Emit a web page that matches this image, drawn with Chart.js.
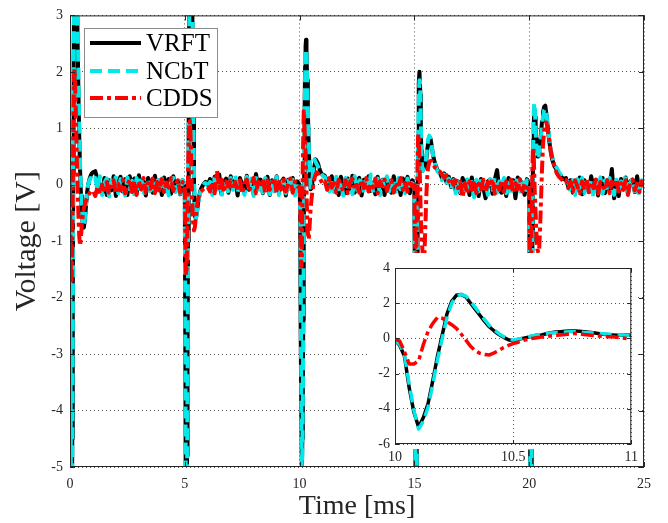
<!doctype html>
<html lang="en">
<head>
<meta charset="utf-8">
<title>Voltage response</title>
<script src="https://cdn.jsdelivr.net/npm/chart.js"></script>
<style>
  html,body{margin:0;padding:0;background:#fff}
  #wrap{position:relative;width:668px;height:523px}
  #main{position:absolute;left:0;top:0}
  #inset{position:absolute;left:370px;top:253px}
</style>
</head>
<body>
<div id="wrap">
  <canvas id="main" width="668" height="523"></canvas>
  <canvas id="inset" width="273" height="214"></canvas>
</div>

<script>
/* ---------- time base: one 5 ms period, repeated ---------------------- */
const periodStarts = [0, 5, 10, 15, 20];
const tOffsets = [0,0.02,0.04,0.06,0.08,0.10,0.12,0.14,0.16,0.18,0.20,0.22,0.24,0.26,0.28,0.30,
  0.33,0.36,0.40,0.44,0.48,0.52,0.56,0.60,0.65,0.70,0.75,0.80,0.85,0.90,0.95,1.0,
  1.1,1.2,1.3,1.4,1.5,1.6,1.7,1.8,1.9,2.0,2.1,2.2,2.3,
  2.4,2.5,2.6,2.7,2.8,2.9,3.0,3.1,3.2,3.3,3.4,3.5,3.6,
  3.7,3.8,3.9,4.0,4.1,4.2,4.3,4.4,4.5,4.6,4.7,4.8,4.9];
const tEnd = 25;

/* ---------- VRFT (V) per period ---------------------------------------- */
const vrft0 = [0,-2.5,-5.5,-6.3,-6.0,-4.5,-2.2,0.2,2.2,3.6,4.4,4.8,4.8,4.5,4.0,3.5,
  2.6,1.8,0.9,0.25,-0.2,-0.5,-0.7,-0.76,-0.62,-0.35,-0.12,0.02,0.1,0.16,0.2,0.22,
  0.24,0.1,0.0,-0.16,0.12,-0.18,0.08,-0.1,0.15,-0.2,0.05,0.14,-0.12,
  0.1,-0.18,0.15,-0.05,0.11,-0.16,0.17,-0.08,0.06,-0.19,0.12,0.03,-0.14,
  0.16,-0.09,0.08,-0.18,0.13,-0.04,0.1,-0.16,0.15,-0.11,0.06,-0.17,0.08];
const vrft1 = [0,-2.6,-5.4,-6.2,-6.0,-4.8,-3.0,-1.0,0.8,2.2,3.2,3.9,4.3,4.4,4.2,3.8,
  3.0,1.6,0.0,-0.55,-0.6,-0.5,-0.38,-0.26,-0.16,-0.08,-0.04,0.0,0.03,0.05,0.02,0.0,
  0.1,-0.15,0.14,-0.08,0.18,-0.17,0.05,0.11,-0.14,0.15,-0.06,0.08,-0.19,
  0.12,0.0,-0.13,0.16,-0.09,0.06,-0.17,0.19,-0.05,0.09,-0.15,0.03,0.14,
  -0.18,0.08,-0.08,0.15,-0.14,0.05,0.11,-0.19,0.09,-0.03,0.12,-0.15,0.06];
const vrft2 = [0,-0.4,-1.0,-2.8,-4.2,-5.05,-4.5,-3.7,-2.4,-1.0,0.2,1.4,2.1,2.45,2.57,2.35,
  1.85,1.3,0.65,0.22,-0.08,-0.06,0.06,0.2,0.34,0.45,0.42,0.38,0.3,0.24,0.2,0.18,
  0.16,0.06,-0.06,0.15,-0.12,0.09,-0.18,0.14,0.0,-0.15,0.11,-0.08,0.16,
  -0.14,0.06,0.12,-0.19,0.09,-0.05,0.15,-0.11,0.03,-0.17,0.14,-0.06,0.09,
  -0.18,0.12,0.02,-0.14,0.15,-0.09,0.06,-0.18,0.11,-0.03,0.14,-0.15,0.08];
const vrft3 = [0,-2.0,-4.5,-6.0,-6.0,-4.8,-2.8,-0.8,0.6,1.3,1.8,2.0,2.0,1.6,1.0,0.6,
  0.3,0.25,0.35,0.3,0.32,0.45,0.62,0.75,0.85,0.82,0.7,0.55,0.45,0.38,0.32,0.26,
  0.22,0.12,0.2,0.04,0.14,-0.04,0.1,-0.1,0.06,-0.15,0.12,-0.06,0.09,
  -0.18,0.13,-0.08,0.03,-0.2,0.1,-0.05,-0.24,0.06,0.09,-0.16,0.09,0.26,
  -0.09,-0.14,0.05,-0.2,0.12,-0.06,0.08,-0.24,0.13,-0.09,0.0,-0.18,0.1];
const vrft4 = [0,-2.0,-4.5,-6.0,-6.0,-4.8,-2.8,-1.0,0.2,0.8,1.1,1.25,1.3,1.2,1.0,0.8,
  0.6,0.5,0.5,0.6,0.75,0.95,1.12,1.28,1.38,1.4,1.25,1.05,0.85,0.7,0.55,0.45,
  0.33,0.26,0.2,0.14,0.1,0.12,-0.04,0.08,-0.14,0.06,-0.09,0.13,-0.17,
  0.08,0.0,-0.13,0.15,-0.06,0.09,-0.19,0.05,0.12,-0.15,0.08,-0.08,0.28,
  -0.24,0.03,-0.2,0.1,-0.05,0.13,-0.16,0.06,0.09,-0.13,0.15,-0.09,0.03];
const vrftEnd = 0.02;

/* ---------- NCbT (V) per period ---------------------------------------- */
const ncbt0 = [0,-2.2,-5.2,-6.4,-6.2,-4.8,-2.6,-0.2,1.9,3.4,4.3,4.8,5.0,4.8,4.4,3.9,
  3.0,2.1,1.1,0.35,-0.15,-0.48,-0.68,-0.74,-0.6,-0.32,-0.1,0.02,0.08,0.12,0.1,0.06,
  0.12,-0.1,0.15,-0.18,0.04,0.11,-0.21,0.08,-0.07,0.16,-0.15,0.1,-0.04,
  -0.19,0.13,-0.08,0.07,-0.17,0.12,-0.11,0.15,-0.2,0.05,0.1,-0.14,0.03,
  -0.18,0.14,-0.07,0.11,-0.15,0.08,-0.19,0.06,0.12,-0.13,0.04,-0.16,0.09];
const ncbt1 = [0,-2.3,-5.1,-6.3,-6.2,-5.0,-3.3,-1.3,0.5,2.0,3.1,3.9,4.4,4.6,4.5,4.1,
  3.3,1.9,0.2,-0.5,-0.62,-0.52,-0.4,-0.28,-0.18,-0.1,-0.06,-0.02,0.02,0.03,0.0,-0.02,
  0.05,-0.18,0.11,-0.12,0.15,-0.21,0.08,0.03,-0.15,0.12,-0.09,0.16,-0.14,
  0.06,-0.05,-0.18,0.14,-0.06,0.11,-0.2,0.15,-0.09,0.03,-0.14,0.12,0.06,
  -0.17,0.09,-0.12,0.14,-0.18,0.03,0.08,-0.15,0.12,-0.08,0.09,-0.19,0.05];
const ncbt2 = [0,-0.35,-0.9,-2.6,-4.1,-5.15,-4.7,-3.9,-2.6,-1.2,0.0,1.2,1.9,2.3,2.4,2.3,
  1.9,1.35,0.7,0.25,-0.05,-0.02,0.1,0.35,0.45,0.4,0.36,0.32,0.28,0.22,0.2,0.16,
  0.14,0.03,-0.12,0.11,-0.15,0.14,-0.08,0.06,-0.19,0.12,-0.03,0.09,-0.17,
  0.15,-0.09,0.05,0.14,-0.15,0.08,-0.06,0.18,-0.14,0.0,0.11,-0.18,0.08,
  -0.05,0.15,-0.12,0.03,0.09,-0.17,0.12,-0.08,0.05,-0.15,0.11,-0.09,0.03];
const ncbt3 = [0,-1.8,-4.2,-5.8,-6.1,-5.0,-3.0,-1.0,0.4,1.1,1.6,1.85,1.85,1.6,1.1,0.7,
  0.35,0.25,0.3,0.35,0.38,0.5,0.68,0.8,0.87,0.82,0.7,0.55,0.45,0.36,0.3,0.24,
  0.2,0.08,0.18,0.0,0.11,-0.08,0.08,-0.15,0.09,-0.2,0.06,-0.1,0.13,
  -0.15,0.05,-0.22,0.09,-0.12,0.15,-0.06,0.03,-0.18,0.1,-0.09,0.13,-0.2,
  0.06,-0.03,0.12,-0.15,0.08,-0.19,0.09,-0.05,0.15,-0.12,0.05,-0.16,0.08];
const ncbt4 = [0,-1.8,-4.2,-5.8,-6.1,-5.0,-3.0,-1.2,0.3,0.9,1.3,1.45,1.4,1.2,0.95,0.75,
  0.55,0.48,0.45,0.52,0.68,0.88,1.05,1.2,1.32,1.35,1.25,1.08,0.9,0.74,0.6,0.5,
  0.36,0.3,0.22,0.16,0.1,0.08,0.03,-0.12,0.08,-0.18,0.1,-0.06,0.12,
  -0.15,0.05,-0.1,0.09,-0.22,0.06,-0.03,0.13,-0.16,0.08,-0.09,0.12,-0.05,
  -0.18,0.09,-0.13,0.06,-0.08,0.15,-0.19,0.03,0.1,-0.12,0.05,-0.18,0.08];
const ncbtEnd = -0.06;

/* ---------- CDDS (V) per period ---------------------------------------- */
const cdds0 = [0,-0.9,-1.6,-1.75,-1.6,-1.1,-0.2,0.8,1.6,2.0,2.05,1.8,1.5,1.2,0.8,0.4,
  -0.05,-0.45,-0.9,-1.08,-0.92,-0.68,-0.52,-0.42,-0.34,-0.28,-0.23,-0.18,-0.15,-0.12,-0.11,-0.1,
  -0.2,-0.04,-0.17,0.0,-0.15,0.05,-0.14,-0.02,0.08,-0.16,0.02,-0.1,0.09,
  -0.15,-0.01,0.1,-0.13,0.06,-0.18,0.07,-0.08,0.12,-0.14,0.03,-0.07,0.11,
  -0.15,0.05,-0.1,0.1,-0.13,0.04,-0.05,0.12,-0.11,0.01,0.08,-0.14,0.05];
const cdds1 = [0,-0.8,-1.4,-1.6,-1.5,-1.1,-0.5,0.1,0.6,0.95,1.1,1.13,1.0,0.75,0.4,0.05,
  -0.35,-0.65,-0.81,-0.75,-0.58,-0.42,-0.3,-0.22,-0.16,-0.12,-0.1,-0.08,-0.06,-0.05,-0.05,-0.04,
  -0.12,0.05,-0.15,0.25,-0.06,0.09,-0.14,0.06,-0.03,0.08,-0.08,0.05,-0.12,
  0.08,-0.16,0.03,0.09,-0.11,0.0,0.12,-0.15,0.06,-0.05,0.11,-0.14,0.08,
  -0.09,0.03,0.12,-0.15,0.05,-0.08,0.09,-0.12,0.02,0.11,-0.14,0.06,-0.03];
const cdds2 = [-0.04,-0.15,-0.75,-1.45,-1.45,-1.28,-0.35,0.4,0.85,1.3,1.2,0.95,0.78,0.57,0.25,-0.1,
  -0.58,-0.85,-0.97,-0.7,-0.42,-0.25,-0.1,0.0,0.12,0.18,0.22,0.2,0.15,0.1,0.06,0.02,
  0.06,-0.09,0.12,-0.05,0.03,-0.14,0.09,-0.02,-0.11,0.08,-0.15,0.05,0.11,
  -0.08,0.0,-0.14,0.09,-0.06,0.12,-0.12,0.03,-0.05,0.11,-0.15,0.06,-0.03,
  0.09,-0.11,0.02,0.08,-0.14,0.05,-0.06,0.12,-0.09,0.03,-0.12,0.08,-0.03];
const cdds3 = [0,-0.8,-1.4,-1.6,-1.4,-0.8,-0.1,0.5,0.85,0.9,0.75,0.45,0.1,-0.25,-0.55,-0.8,
  -1.05,-1.2,-1.3,-1.2,-0.7,-0.2,0.15,0.32,0.4,0.42,0.42,0.38,0.34,0.3,0.3,0.28,
  0.24,0.18,0.12,0.17,0.06,0.12,0.0,0.08,-0.06,0.05,-0.22,0.03,-0.16,
  0.06,-0.09,0.08,-0.15,0.02,-0.08,0.09,-0.13,0.05,-0.03,0.1,-0.16,0.03,
  -0.09,0.08,-0.12,0.06,-0.05,0.09,-0.15,0.03,-0.08,0.1,-0.12,0.02,-0.06];
const cdds4 = [0,-0.8,-1.4,-1.6,-1.4,-0.9,-0.3,0.3,0.6,0.66,0.5,0.2,-0.1,-0.3,-0.5,-0.75,
  -1.0,-1.15,-1.2,-1.1,-0.7,-0.2,0.3,0.7,0.95,1.08,1.1,1.0,0.85,0.7,0.58,0.48,
  0.32,0.2,0.14,0.1,0.05,0.08,-0.06,0.05,-0.12,0.08,-0.03,-0.15,0.06,
  -0.09,0.1,-0.13,0.03,-0.06,0.09,-0.16,0.05,0.0,-0.1,0.08,-0.15,0.06,
  -0.05,0.1,-0.12,0.03,-0.09,0.08,-0.18,0.05,0.09,-0.1,0.02,-0.13,0.06];
const cddsEnd = -0.02;

/* ---------- inset: zoom on 10 .. 11 ms --------------------------------- */
const insetT = [10.00,10.02,10.04,10.06,10.08,10.10,10.12,10.14,10.16,10.18,
  10.20,10.22,10.24,10.26,10.28,10.30,10.32,10.34,10.36,10.38,
  10.40,10.42,10.44,10.46,10.48,10.50,10.52,10.54,10.56,10.58,
  10.60,10.62,10.64,10.66,10.68,10.70,10.72,10.74,10.76,10.78,
  10.80,10.82,10.84,10.86,10.88,10.90,10.92,10.94,10.96,10.98,11.00];
const insetVrft = [-0.1,-0.4,-1.0,-2.8,-4.2,-5.05,-4.5,-3.7,-2.4,-1.0,
  0.2,1.4,2.1,2.45,2.5,2.35,2.0,1.65,1.3,0.95,
  0.65,0.42,0.22,0.06,-0.08,-0.14,-0.06,0.0,0.06,0.12,
  0.18,0.2,0.26,0.32,0.36,0.38,0.4,0.42,0.42,0.4,
  0.38,0.35,0.32,0.28,0.24,0.22,0.2,0.18,0.18,0.2,0.18];
const insetNcbt = [-0.1,-0.35,-0.9,-2.6,-4.1,-5.15,-4.7,-3.9,-2.6,-1.2,
  0.0,1.2,2.0,2.4,2.5,2.4,2.1,1.75,1.4,1.05,
  0.72,0.48,0.27,0.1,-0.04,-0.1,-0.04,0.02,0.08,0.14,
  0.2,0.24,0.28,0.3,0.32,0.34,0.36,0.38,0.38,0.36,
  0.34,0.32,0.3,0.28,0.26,0.24,0.22,0.2,0.19,0.18,0.17];
const insetCdds = [-0.04,-0.15,-0.75,-1.45,-1.45,-1.28,-0.35,0.4,0.85,1.2,
  1.15,0.95,0.78,0.57,0.25,-0.1,-0.45,-0.7,-0.85,-0.92,
  -0.94,-0.82,-0.68,-0.52,-0.4,-0.3,-0.22,-0.12,-0.06,0.0,
  0.04,0.08,0.1,0.14,0.17,0.19,0.22,0.26,0.28,0.26,
  0.22,0.19,0.16,0.14,0.12,0.1,0.09,0.06,0.03,0.0,-0.04];

const mainXTicks = [0, 5, 10, 15, 20, 25];
const mainYTicks = [-5, -4, -3, -2, -1, 0, 1, 2, 3];
const insetXTicks = [10, 10.5, 11];
const insetYTicks = [-6, -4, -2, 0, 2, 4];

/* ---------- helpers ---------------------------------------------------- */
const tMain = periodStarts.flatMap(p => tOffsets.map(o => +(p + o).toFixed(2))).concat([tEnd]);
const toPts = (xs, ys) => xs.map((x, i) => ({x, y: ys[i]}));

const vrft = [...vrft0, ...vrft1, ...vrft2, ...vrft3, ...vrft4, vrftEnd];
const ncbt = [...ncbt0, ...ncbt1, ...ncbt2, ...ncbt3, ...ncbt4, ncbtEnd];
const cdds = [...cdds0, ...cdds1, ...cdds2, ...cdds3, ...cdds4, cddsEnd];

const SERIF = '"Liberation Serif", "DejaVu Serif", serif';
const INK = '#262626';
Chart.defaults.font.family = SERIF;
Chart.defaults.color = INK;

const styles = {
  VRFT: {borderColor:'#000000', borderDash:[]},
  NCbT: {borderColor:'#00e8e8', borderDash:[12,6]},
  CDDS: {borderColor:'#ff0000', borderDash:[13,4,4,4]}
};
function series(label, pts, w, order){
  return {label, data:pts, ...styles[label], borderWidth:w, pointRadius:0,
          tension:0, borderJoinStyle:'round', clip:0, order};
}
const fixTicks = list => s => { s.ticks = list.map(v => ({value:v})); };

/* ---------- plugins: white panel, box + inward ticks, legend ----------- */
const frame = {
  id:'frame',
  beforeDraw(chart, args, o){
    if(!o.panel) return;
    const a = chart.chartArea, ctx = chart.ctx;
    ctx.save(); ctx.fillStyle = '#fff';
    ctx.fillRect(0, 0, a.right + 4, a.bottom + 5);
    ctx.restore();
  },
  afterDatasetsDraw(chart, args, o){
    const a = chart.chartArea, ctx = chart.ctx;
    const sx = chart.scales.x, sy = chart.scales.y, L = o.tick || 5;
    ctx.save();
    ctx.strokeStyle = INK; ctx.lineWidth = 1; ctx.setLineDash([]);
    ctx.strokeRect(a.left + 0.5, a.top + 0.5, a.right - a.left - 1, a.bottom - a.top - 1);
    ctx.beginPath();
    sx.ticks.forEach(t => {
      const px = Math.round(sx.getPixelForValue(t.value)) + 0.5;
      ctx.moveTo(px, a.bottom); ctx.lineTo(px, a.bottom - L);
      ctx.moveTo(px, a.top); ctx.lineTo(px, a.top + L);
    });
    sy.ticks.forEach(t => {
      const py = Math.round(sy.getPixelForValue(t.value)) + 0.5;
      ctx.moveTo(a.left, py); ctx.lineTo(a.left + L, py);
      ctx.moveTo(a.right, py); ctx.lineTo(a.right - L, py);
    });
    ctx.stroke();
    ctx.restore();
  }
};

const legendBox = {
  id:'legendBox',
  afterDatasetsDraw(chart){
    const ctx = chart.ctx, rows = [43, 71, 98];
    ctx.save();
    ctx.fillStyle = '#fff'; ctx.fillRect(84, 28, 133, 89);
    ctx.strokeStyle = '#8c8c8c'; ctx.lineWidth = 1; ctx.setLineDash([]);
    ctx.strokeRect(84.5, 28.5, 133, 89);
    chart.data.datasets.forEach((ds, i) => {
      const y = rows[i];
      ctx.strokeStyle = ds.borderColor; ctx.lineWidth = ds.borderWidth;
      ctx.setLineDash(ds.borderDash);
      ctx.beginPath(); ctx.moveTo(90, y); ctx.lineTo(141, y); ctx.stroke();
      ctx.setLineDash([]);
      ctx.fillStyle = '#000'; ctx.font = '25px ' + SERIF; ctx.textBaseline = 'middle';
      ctx.fillText(ds.label, 146, y + 1);
    });
    ctx.restore();
  }
};

const gridCfg = {color:'rgba(38,38,38,0.8)', lineWidth:1, drawTicks:false};
const borderCfg = {display:false, dash:[1,3]};

/* ---------- main chart ------------------------------------------------- */
new Chart(document.getElementById('main'), {
  type:'line',
  data:{datasets:[
    series('VRFT', toPts(tMain, vrft), 4, 3),
    series('NCbT', toPts(tMain, ncbt), 4, 2),
    series('CDDS', toPts(tMain, cdds), 4, 1)
  ]},
  options:{
    responsive:false, animation:false, devicePixelRatio:1,
    layout:{padding:{left:0, top:14, right:24, bottom:0}},
    plugins:{legend:{display:false}, tooltip:{enabled:false}, frame:{tick:5}},
    scales:{
      x:{type:'linear', min:0, max:25,
         afterBuildTicks:fixTicks(mainXTicks),
         afterFit:s => { s.height = 56; },
         ticks:{font:{size:14}, color:INK, padding:9, maxRotation:0},
         grid:gridCfg, border:borderCfg,
         title:{display:true, text:'Time [ms]', font:{size:28}, color:INK, padding:{top:0, bottom:0}}},
      y:{min:-5, max:3,
         afterBuildTicks:fixTicks(mainYTicks),
         afterFit:s => { s.width = 70; },
         ticks:{font:{size:14}, color:INK, padding:7},
         grid:gridCfg, border:borderCfg,
         title:{display:true, text:'Voltage [V]', font:{size:30}, color:INK, padding:{top:9, bottom:0}}}
    }
  },
  plugins:[frame, legendBox]
});

/* ---------- inset chart ------------------------------------------------ */
new Chart(document.getElementById('inset'), {
  type:'line',
  data:{datasets:[
    series('VRFT', toPts(insetT, insetVrft), 3.5, 3),
    series('NCbT', toPts(insetT, insetNcbt), 3.5, 2),
    series('CDDS', toPts(insetT, insetCdds), 3.5, 1)
  ]},
  options:{
    responsive:false, animation:false, devicePixelRatio:1,
    layout:{padding:{left:0, top:15, right:10, bottom:0}},
    plugins:{legend:{display:false}, tooltip:{enabled:false}, frame:{panel:true, tick:4}},
    scales:{
      x:{type:'linear', min:10, max:11,
         afterBuildTicks:fixTicks(insetXTicks),
         ticks:{font:{size:14}, color:INK, padding:5, maxRotation:0, callback:v => String(v)},
         afterFit:s => { s.height = 23; },
         grid:gridCfg, border:borderCfg},
      y:{min:-6, max:4,
         afterBuildTicks:fixTicks(insetYTicks),
         ticks:{font:{size:14}, color:INK, padding:5, callback:v => String(v)},
         afterFit:s => { s.width = 25; },
         grid:gridCfg, border:borderCfg}
    }
  },
  plugins:[frame]
});
</script>
</body>
</html>
